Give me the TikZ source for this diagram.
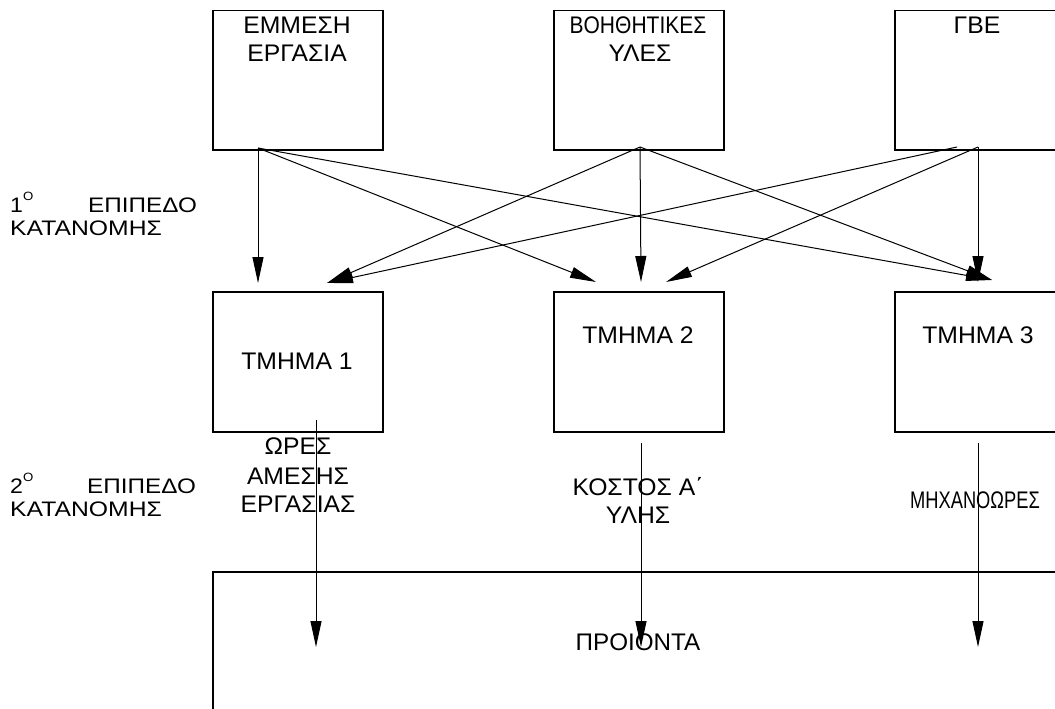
\documentclass[tikz,border=0pt]{standalone}
\usepackage{fontspec}
\setmainfont{Liberation Sans}[FakeStretch=1.03]
\newfontfamily\sidefont{Liberation Sans}[FakeStretch=1.1]
\usetikzlibrary{arrows.meta}
\begin{document}
\begin{tikzpicture}[x=1pt,y=-1pt,
  box/.style={draw,line width=1.5pt,minimum width=170pt,minimum height=139pt,
              anchor=north west,inner sep=0pt},
  lbl/.style={font=\fontsize{24}{28}\selectfont,inner sep=0pt,anchor=base},
  side/.style={font=\sidefont\fontsize{21}{21}\selectfont,inner sep=0pt,anchor=base west},
  flow/.style={line width=1pt,-{Triangle[length=26pt,width=11pt]}}]
\useasboundingbox (0,0) rectangle (1055,709);
\clip (0,0) rectangle (1055,709);

% cost pools
\node[box] (ind) at (212,10) {};
\node[box] (aux) at (553,10) {};
\node[box,minimum width=175pt] (gbe) at (894,10) {};
% departments
\node[box,minimum height=140pt] (d1) at (212,291) {};
\node[box,minimum height=140pt] (d2) at (553,291) {};
\node[box,minimum height=140pt,minimum width=175pt] (d3) at (894,291) {};
% products
\node[box,minimum width=860pt,minimum height=160pt] (prod) at (212,571) {};

% box texts
\node[lbl] (ind-t1) at (297,34) {ΕΜΜΕΣΗ};
\node[lbl] (ind-t2) at (297,62) {ΕΡΓΑΣΙΑ};
\node[lbl] (aux-t1) at (638,34) {\scalebox{0.85}[1]{ΒΟΗΘΗΤΙΚΕΣ}};
\node[lbl] (aux-t2) at (640,62) {ΥΛΕΣ};
\node[lbl] (gbe-t) at (977,34) {ΓΒΕ};
\node[lbl] (d1-t) at (297,369) {ΤΜΗΜΑ 1};
\node[lbl] (d2-t) at (638,343) {ΤΜΗΜΑ 2};
\node[lbl] (d3-t) at (978,343) {ΤΜΗΜΑ 3};
\node[lbl] (prod-t) at (638,650) {\scalebox{0.98}[1]{ΠΡΟΙΟΝΤΑ}};

% allocation bases
\node[lbl] (b1-t1) at (298,454) {ΩΡΕΣ};
\node[lbl] (b1-t2) at (298,484) {ΑΜΕΣΗΣ};
\node[lbl] (b1-t3) at (298,512) {ΕΡΓΑΣΙΑΣ};
\node[lbl] (b2-t1) at (638,495) {ΚΟΣΤΟΣ Α΄};
\node[lbl] (b2-t2) at (638,523) {ΥΛΗΣ};
\node[lbl] (b3-t) at (975,508) {\scalebox{0.74}[1]{ΜΗΧΑΝΟΩΡΕΣ}};

% level labels
\node[side] (lv1-n) at (10,212) {1\raisebox{0.55em}{\fontsize{12}{12}\selectfont O}};
\node[side] (lv1-a) at (88,212) {\scalebox{1.05}[1]{ΕΠΙΠΕΔΟ}};
\node[side] (lv1-b) at (10,235) {\scalebox{1.07}[1]{ΚΑΤΑΝΟΜΗΣ}};
\node[side] (lv2-n) at (10,493) {2\raisebox{0.55em}{\fontsize{12}{12}\selectfont O}};
\node[side] (lv2-a) at (87,493) {\scalebox{1.05}[1]{ΕΠΙΠΕΔΟ}};
\node[side] (lv2-b) at (10,516) {\scalebox{1.07}[1]{ΚΑΤΑΝΟΜΗΣ}};

% connector ends
\coordinate (ind-o) at (258,148);
\coordinate (aux-o) at (640,147);
\coordinate (gbe-o1) at (957,147);
\coordinate (gbe-o2) at (978,147);
\coordinate (d1-i) at (258,283);
\coordinate (d1-j) at (327,283);
\coordinate (d2-l) at (596,282);
\coordinate (d2-m) at (641,282);
\coordinate (d2-r) at (666,282);
\coordinate (d3-i) at (992,280);
\coordinate (d3-m) at (978,282);
\coordinate (d1-o) at (316,420);
\coordinate (d2-o) at (641,443);
\coordinate (d3-o) at (978,443);
\coordinate (p1) at (316,647);
\coordinate (p2) at (641,647);
\coordinate (p3) at (978,647);

% first allocation level
\draw[flow] (ind-o) -- (d1-i);
\draw[flow] (ind-o) -- (d2-l);
\draw[flow] (ind-o) -- (d3-i);
\draw[flow] (aux-o) -- (d1-j);
\draw[flow] (aux-o) -- (d2-m);
\draw[flow] (aux-o) -- (d3-i);
\draw[flow] (gbe-o1) -- (d1-j);
\draw[flow] (gbe-o2) -- (d2-r);
\draw[flow] (gbe-o2) -- (d3-m);

% second allocation level
\draw[flow] (d1-o) -- (p1);
\draw[flow] (d2-o) -- (p2);
\draw[flow] (d3-o) -- (p3);
\end{tikzpicture}
\end{document}
